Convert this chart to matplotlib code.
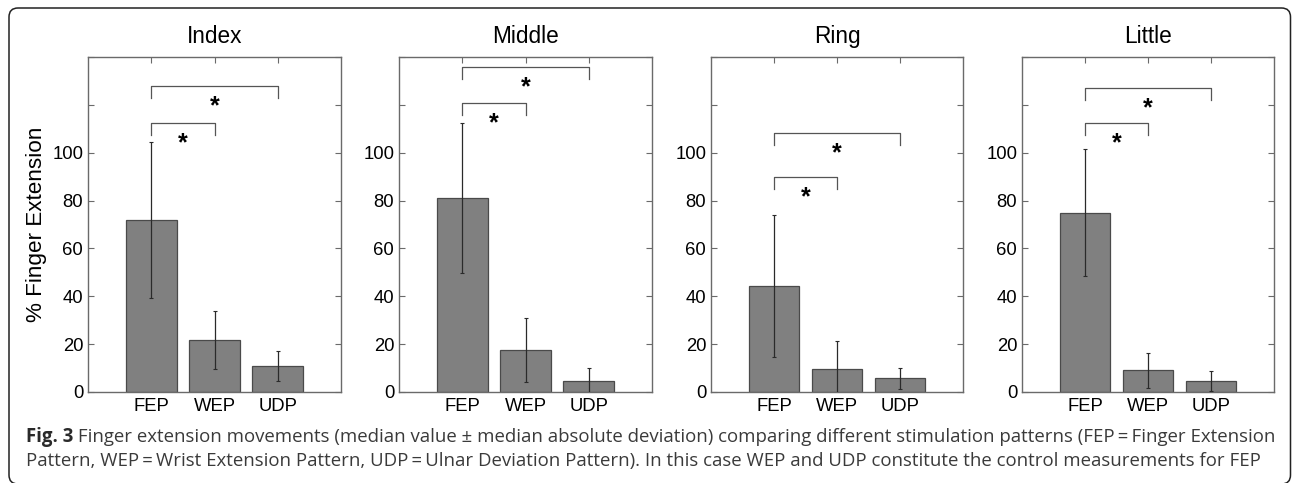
import matplotlib
matplotlib.use("Agg")
import matplotlib.pyplot as plt
from matplotlib.patches import FancyBboxPatch
import numpy as np

# ---------------- data ----------------
fingers = ["Index", "Middle", "Ring", "Little"]
patterns = ["FEP", "WEP", "UDP"]
medians = [
    [71.8, 21.8, 10.9],
    [81.0, 17.5, 4.5],
    [44.3, 9.5, 5.7],
    [75.0, 9.1, 4.6],
]
mads = [
    [32.5, 12.0, 6.4],
    [31.3, 13.4, 5.7],
    [29.6, 11.7, 4.5],
    [26.7, 7.4, 4.1],
]
# significance bracket heights: (FEP-WEP, FEP-UDP)
bracket_tops = [
    [112.4, 127.8],
    [120.8, 135.7],
    [89.7, 108.4],
    [112.3, 126.9],
]
yticks = [0, 20, 40, 60, 80, 100, 120, 140]
yticklabels = ["0", "20", "40", "60", "80", "100", "", ""]
ylabel = "% Finger Extension"
caption_bold = "Fig. 3"
caption_line1 = (" Finger extension movements (median value \u00b1 median absolute deviation) "
                 "comparing different stimulation patterns (FEP\u2009=\u2009Finger Extension")
caption_line2 = ("Pattern, WEP\u2009=\u2009Wrist Extension Pattern, UDP\u2009=\u2009Ulnar Deviation Pattern). "
                 "In this case WEP and UDP constitute the control measurements for FEP")

# ---------------- figure ----------------
W, H = 1292, 483
fig = plt.figure(figsize=(W / 100, H / 100), dpi=100)
plt.rcParams['font.family'] = ['Liberation Sans', 'DejaVu Sans']

# rounded frame drawn in pixel coordinates
bg = fig.add_axes([0, 0, 1, 1], zorder=-1)
bg.set_xlim(0, W)
bg.set_ylim(H, 0)
bg.axis("off")
frame = FancyBboxPatch((9, 8), 1290.5 - 9, 484 - 8,
                       boxstyle="round,pad=0,rounding_size=9",
                       fill=False, edgecolor="#222222", linewidth=1.1, clip_on=False)
bg.add_patch(frame)

lefts = [88, 399, 711, 1022]
widths = [253, 253, 252, 252]
top_px, bot_px = 57, 392
x = np.arange(1, len(patterns) + 1)
spine_col = "#6a6a6a"

for i, name in enumerate(fingers):
    ax = fig.add_axes([lefts[i] / W, 1 - bot_px / H, widths[i] / W, (bot_px - top_px) / H])
    ax.bar(x, medians[i], width=0.8, color="#808080", edgecolor="#4a4a4a",
           linewidth=0.9, zorder=2)
    ax.errorbar(x, medians[i], yerr=mads[i], fmt="none", ecolor="#2a2a2a",
                elinewidth=0.9, capsize=1.5, capthick=0.8, zorder=3)
    ax.set_xlim(0, 4)
    ax.set_ylim(0, 140)
    ax.set_yticks(yticks)
    ax.set_yticklabels(yticklabels)
    ax.set_xticks(x)
    ax.set_xticklabels(patterns)
    ax.tick_params(axis="both", direction="in", length=4, width=0.8,
                   color=spine_col, labelsize=13.3, top=True, right=True)
    ax.tick_params(axis="y", pad=3.5)
    ax.tick_params(axis="x", pad=4)
    for s in ax.spines.values():
        s.set_color(spine_col)
        s.set_linewidth(1.0)
    ax.set_title(name, fontsize=16.3, pad=10)

    # significance brackets
    drop = 5
    for j, (xr, ytop) in enumerate(zip([2, 3], bracket_tops[i])):
        ax.plot([1, 1, xr, xr], [ytop - drop, ytop, ytop, ytop - drop],
                color="#555555", linewidth=0.9, zorder=4, clip_on=False)
        ax.text((1 + xr) / 2, ytop - 11.4, "*", ha="center", va="baseline",
                fontsize=18, fontweight="bold", color="black")

fig.text(37 / W, 1 - 224.5 / H, ylabel, rotation=90, ha="center", va="center",
         fontsize=16.2)

# caption
renderer = fig.canvas.get_renderer()
cap_col = "#3a3a3a"
cap_font = ['Open Sans', 'DejaVu Sans']
cap_size = 13.4
tb = fig.text(26 / W, 1 - 442 / H, caption_bold, fontsize=cap_size, fontweight="bold",
              family=cap_font, color="#2a2a2a", va="baseline", ha="left")
bb = tb.get_window_extent(renderer=renderer)
fig.text(bb.x1 / W, 1 - 442 / H, caption_line1, fontsize=cap_size, family=cap_font,
         color=cap_col, va="baseline", ha="left")
fig.text(26 / W, 1 - 466 / H, caption_line2, fontsize=cap_size, family=cap_font,
         color=cap_col, va="baseline", ha="left")

fig.savefig("out.png", dpi=100)
